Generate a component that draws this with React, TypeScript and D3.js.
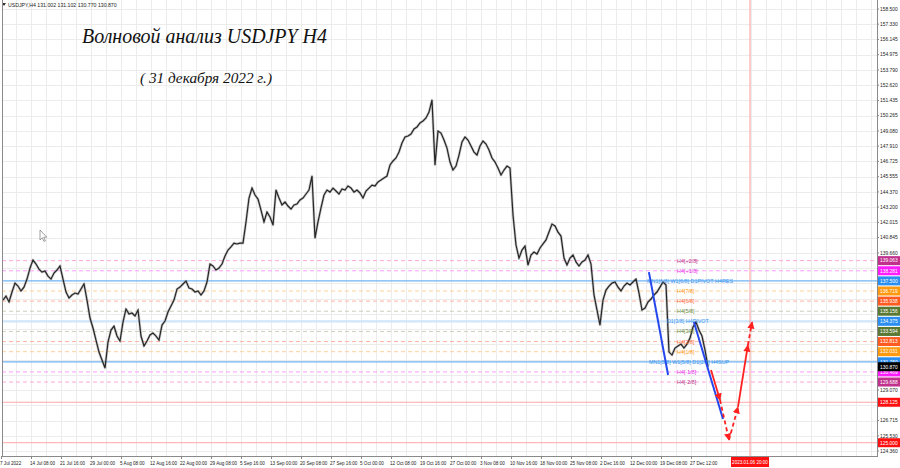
import React from 'react';
import * as d3 from 'd3';

const W = 900;
const H = 468;

// H4 closes (sampled), Jul 7 2022 .. Dec 30 2022
const closes = [
  136.02, 136.33, 135.87, 136.64, 137.33, 137.10, 136.72, 137.02, 137.64, 138.49,
  139.11, 138.80, 138.41, 138.18, 138.26, 137.87, 137.64, 138.11, 138.34, 138.65,
  137.64, 136.64, 136.18, 136.41, 136.56, 136.48, 136.87, 137.26, 136.02, 134.63,
  133.86, 132.93, 132.00, 131.39, 130.77, 132.78, 133.70, 134.01, 133.24, 132.85,
  134.32, 135.33, 134.94, 135.02, 134.79, 135.25, 133.24, 132.47, 132.85, 133.32,
  133.47, 133.24, 132.93, 134.09, 134.40, 135.10, 135.56, 136.02, 136.87, 137.02,
  137.26, 137.49, 136.95, 136.87, 136.64, 136.72, 136.41, 136.72, 137.41, 138.80,
  138.65, 138.34, 138.49, 138.80, 139.42, 139.88, 140.12, 140.42, 140.35, 140.42,
  140.42, 142.05, 143.90, 144.67, 144.13, 143.82, 142.97, 142.05, 142.82, 142.43,
  141.81, 144.52, 143.90, 143.36, 143.59, 143.28, 143.05, 143.36, 143.44, 143.75,
  143.90, 144.21, 144.52, 145.60, 140.81, 142.05, 143.13, 144.13, 144.52, 144.36,
  144.67, 144.44, 144.21, 144.60, 144.52, 144.83, 144.67, 144.36, 144.52, 144.29,
  143.90, 144.44, 144.67, 144.90, 144.83, 145.14, 145.29, 145.45, 145.60, 146.45,
  146.76, 146.99, 147.45, 148.15, 148.61, 148.69, 148.84, 149.23, 149.39, 149.70,
  149.85, 150.08, 150.54, 151.47, 146.45, 149.08, 148.92, 148.38, 147.76, 146.68,
  146.06, 146.37, 147.22, 148.23, 148.61, 148.38, 147.92, 147.45, 147.22, 147.92,
  148.30, 148.07, 147.61, 146.99, 146.68, 146.22, 145.68, 146.06, 146.37, 146.22,
  142.59, 140.27, 139.26, 139.88, 140.19, 138.72, 139.50, 139.73, 139.57, 140.04,
  140.35, 140.66, 141.27, 141.89, 141.74, 141.27, 140.96, 139.26, 138.72, 139.26,
  139.50, 138.96, 138.65, 138.96, 139.11, 139.50, 138.80, 136.41, 135.25, 134.09,
  136.02, 136.79, 137.10, 137.33, 137.41, 137.02, 136.72, 137.10, 137.33, 137.18,
  137.41, 137.64, 136.56, 135.25, 135.40, 135.87, 136.10, 136.41, 136.64, 137.02,
  137.41, 137.18, 132.00, 131.77, 132.31, 132.47, 132.62, 132.31, 132.62, 133.08,
  133.94, 134.32, 133.70, 133.24, 132.16, 130.87,
];

const priceTicks = [
  '158.500', '157.330', '156.145', '154.975', '153.790', '152.620', '151.435', '150.265',
  '149.080', '147.910', '146.725', '145.555', '144.370', '143.200', '142.015', '140.845',
  '139.660', '138.490', '137.305', '136.135', '134.950', '133.780', '132.595', '131.425',
  '130.240', '129.070', '127.885', '126.715', '125.530', '124.360',
];

const timeLabels = [
  '7 Jul 2022', '14 Jul 08:00', '21 Jul 16:00', '29 Jul 00:00', '5 Aug 08:00', '12 Aug 16:00',
  '22 Aug 00:00', '29 Aug 08:00', '5 Sep 16:00', '13 Sep 00:00', '20 Sep 08:00', '27 Sep 16:00',
  '5 Oct 00:00', '12 Oct 08:00', '19 Oct 16:00', '27 Oct 00:00', '3 Nov 08:00', '10 Nov 16:00',
  '18 Nov 00:00', '25 Nov 08:00', '2 Dec 16:00', '12 Dec 00:00', '19 Dec 08:00', '27 Dec 12:00',
];

const levelPrices = [
  139.0625, 138.28125, 137.5, 136.71875, 135.9375, 135.15625, 134.375,
  133.59375, 132.8125, 132.03125, 131.25, 130.46875, 129.6875,
];
const levelNames = [
  'H4[+2/8]', 'H4[+1/8]', 'MN1[6/8] W1[6/8] D1PIVOT H4RES', 'H4[7/8]', 'H4[6/8]', 'H4[5/8]',
  'D1[3/8] H4PIVOT', 'H4[3/8]', 'H4[2/8]', 'H4[1/8]', 'MN1[5/8] W1[5/8] D1[2/8] H4SUP',
  'H4[-1/8]', 'H4[-2/8]',
];
const targetPrices = [128.125, 125.0];
const lastPrice = 130.87;
const lastOHLC = ['131.002', '131.102', '130.770', '130.870'];
const markerTimeLabel = '2023.01.06 20:00';
const markerIndex = 249;

// wave lines [index, price]
const blueWaves = [
  [[215.3, 138.18], [221.7, 130.23]],
  [[230.3, 134.32], [240.0, 126.83]],
];
const forecast = [
  [236.0, 130.61], [239.0, 128.3], [242.0, 125.21], [245.0, 127.76], [248.3, 132.54], [249.7, 134.32],
];
const forecastDashed = [false, true, true, false, true];

// styles per level kind
const levelKinds = ['p2', 'p1', 'main', 'o', 'r', 'g', 'mid', 'g', 'r', 'o', 'main', 'p1', 'p2'];
const kindStyle: Record<string, { line: string; box: string; text: string; dash: string; w: number }> = {
  p2: { line: '#ffa6d8', box: '#c0308c', text: '#b8308a', dash: '4,3', w: 1 },
  p1: { line: '#ff9cff', box: '#ff1cff', text: '#e62ee6', dash: '4,3', w: 1 },
  main: { line: '#6fb4f7', box: '#2a8ff0', text: '#3a96f0', dash: '', w: 1.2 },
  o: { line: '#ffd29a', box: '#ff9a10', text: '#ff9a20', dash: '4,3', w: 1 },
  r: { line: '#ffb4a0', box: '#ff5a20', text: '#ff6a3a', dash: '4,3', w: 1 },
  g: { line: '#cfcfbc', box: '#5a7a34', text: '#6a8a3a', dash: '4,3', w: 1 },
  mid: { line: '#cfe5fb', box: '#2a8ff0', text: '#3a96f0', dash: '', w: 2.2 },
};

const PL = 2;
const PR = 877;
const PB = 456;

export default function App() {
  const x = d3.scaleLinear().domain([0, closes.length - 1]).range([3, 708]);
  const y = d3.scaleLinear().domain([124.36, 158.5]).range([451, 9]);

  const line = d3
    .line<number>()
    .x((_, i) => x(i))
    .y((d) => y(d));

  const vGrid = d3.range(PL - 1 + 15, PR, 15);
  const font = '"Liberation Sans", Arial, sans-serif';

  const boxYs = [...levelPrices, ...targetPrices, lastPrice].map((p) => y(p));
  const visibleTicks = priceTicks.filter((t) => boxYs.every((by) => Math.abs(by - y(+t)) > 3.3));

  const labelStart = (name: string) => {
    if (name.startsWith('MN1[6')) return x(214.7);
    if (name.startsWith('MN1[5')) return x(215.3);
    if (name.startsWith('D1')) return x(221.3);
    return x(224.7);
  };

  return (
    <svg width={W} height={H} style={{ position: 'absolute', left: 0, top: 0, background: '#fff' }}>
      <defs>
        <clipPath id="plot">
          <rect x={PL} y={0} width={PR - PL} height={PB} />
        </clipPath>
        <marker id="ah" viewBox="0 0 10 10" refX="9" refY="5" markerWidth="4" markerHeight="4" orient="auto">
          <path d="M0,0 L10,5 L0,10 Z" fill="#ff2020" />
        </marker>
      </defs>
      <rect x={0} y={0} width={W} height={H} fill="#fff" />

      {/* grid */}
      <g clipPath="url(#plot)">
        {priceTicks.map((t) => (
          <line key={'h' + t} x1={PL} x2={PR} y1={Math.round(y(+t)) + 0.5} y2={Math.round(y(+t)) + 0.5} stroke="#ececec" strokeWidth={1} />
        ))}
        {vGrid.map((gx) => (
          <line key={'v' + gx} x1={gx + 0.5} x2={gx + 0.5} y1={0} y2={PB} stroke="#ececec" strokeWidth={1} />
        ))}
      </g>

      {/* levels */}
      <g clipPath="url(#plot)">
        {levelPrices.map((p, i) => {
          const s = kindStyle[levelKinds[i]];
          return (
            <line key={'l' + i} x1={PL} x2={PR} y1={y(p)} y2={y(p)} stroke={s.line} strokeWidth={s.w} strokeDasharray={s.dash || undefined} />
          );
        })}
        {targetPrices.map((p) => (
          <line key={'t' + p} x1={PL} x2={PR} y1={y(p)} y2={y(p)} stroke="#ffa8a8" strokeWidth={1} />
        ))}
        <line x1={x(markerIndex)} x2={x(markerIndex)} y1={0} y2={PB} stroke="#ff9a9a" strokeWidth={1} />
      </g>

      {/* price */}
      <g clipPath="url(#plot)">
        <path d={line(closes) || ''} fill="none" stroke="#9a9a9a" strokeWidth={2.6} strokeLinejoin="round" opacity={0.55} />
        <path d={line(closes) || ''} fill="none" stroke="#262626" strokeWidth={1.2} strokeLinejoin="miter" />
      </g>

      {/* level texts */}
      {levelPrices.map((p, i) => (
        <text key={'lt' + i} x={labelStart(levelNames[i])} y={y(p) + 2} fontSize={5.4} fontFamily={font} fill={kindStyle[levelKinds[i]].text}>
          {levelNames[i]}
        </text>
      ))}

      {/* waves */}
      {blueWaves.map((w, i) => (
        <line key={'bw' + i} x1={x(w[0][0])} y1={y(w[0][1])} x2={x(w[1][0])} y2={y(w[1][1])} stroke="#2448ee" strokeWidth={2} />
      ))}
      {forecast.slice(0, -1).map((pt, i) => {
        const nx = forecast[i + 1];
        return (
          <line
            key={'f' + i}
            x1={x(pt[0])}
            y1={y(pt[1])}
            x2={x(nx[0])}
            y2={y(nx[1])}
            stroke="#ff2020"
            strokeWidth={1.8}
            strokeDasharray={forecastDashed[i] ? '4,3' : undefined}
            markerEnd="url(#ah)"
          />
        );
      })}

      {/* cursor */}
      <path d="M40,230 L40,240 L42.3,237.8 L44,241.5 L45.4,240.9 L43.7,237.2 L46.8,237.2 Z" fill="#fff" stroke="#777" strokeWidth={0.7} />

      {/* title */}
      <text x={82} y={43} fontSize={22} fontStyle="italic" fontFamily='"Liberation Serif", "DejaVu Serif", serif' fill="#111" textLength={245} lengthAdjust="spacingAndGlyphs">
        Волновой анализ USDJPY H4
      </text>
      <text x={140} y={83} fontSize={15} fontStyle="italic" fontFamily='"Liberation Serif", "DejaVu Serif", serif' fill="#111" textLength={132} lengthAdjust="spacingAndGlyphs">
        ( 31 декабря 2022 г.)
      </text>

      {/* header */}
      <path d="M2,3 L6,3 L4,6 Z" fill="#333" />
      <text x={8} y={7} fontSize={5.2} fontFamily={font} fill="#222">
        {'USDJPY,H4  ' + lastOHLC.join(' ')}
      </text>

      {/* frame */}
      <line x1={PL + 0.5} x2={PL + 0.5} y1={0} y2={PB} stroke="#8a8a8a" />
      <line x1={PR + 0.5} x2={PR + 0.5} y1={0} y2={PB + 1} stroke="#8a8a8a" />
      <line x1={PL} x2={PR} y1={PB + 0.5} y2={PB + 0.5} stroke="#8a8a8a" />

      {/* price axis */}
      {priceTicks.map((t) => (
        <line key={'pk' + t} x1={PR} x2={PR + 2} y1={y(+t)} y2={y(+t)} stroke="#888" />
      ))}
      {visibleTicks.map((t) => (
        <text key={'pt' + t} x={880} y={y(+t) + 1.8} fontSize={4.9} fontFamily={font} fill="#222">
          {t}
        </text>
      ))}
      {levelPrices.map((p, i) => (
        <g key={'pb' + i}>
          <rect x={878} y={y(p) - 4.5} width={22} height={9} fill={kindStyle[levelKinds[i]].box} />
          <text x={880} y={y(p) + 1.8} fontSize={4.9} fontFamily={font} fill="#fff">
            {p.toFixed(3)}
          </text>
        </g>
      ))}
      {targetPrices.map((p) => (
        <g key={'tb' + p}>
          <rect x={878} y={y(p) - 4.5} width={22} height={9} fill="#ff1010" />
          <text x={880} y={y(p) + 1.8} fontSize={4.9} fontFamily={font} fill="#fff">
            {p.toFixed(3)}
          </text>
        </g>
      ))}
      <rect x={878} y={y(lastPrice) - 4.5} width={22} height={9} fill="#000" />
      <text x={880} y={y(lastPrice) + 1.8} fontSize={4.9} fontFamily={font} fill="#fff">
        {lastPrice.toFixed(3)}
      </text>

      {/* time axis */}
      {timeLabels.map((t, i) => (
        <g key={'tl' + i}>
          <line x1={x(i * 10) - 1.5} x2={x(i * 10) - 1.5} y1={PB} y2={PB + 3} stroke="#888" />
          <text x={x(i * 10) - 3} y={464.5} fontSize={4.6} fontFamily={font} fill="#222">
            {t}
          </text>
        </g>
      ))}
      <rect x={x(markerIndex) - 19} y={457} width={38} height={10} fill="#ff1010" />
      <text x={x(markerIndex)} y={464} fontSize={4.6} fontFamily={font} fill="#fff" textAnchor="middle">
        {markerTimeLabel}
      </text>
    </svg>
  );
}
